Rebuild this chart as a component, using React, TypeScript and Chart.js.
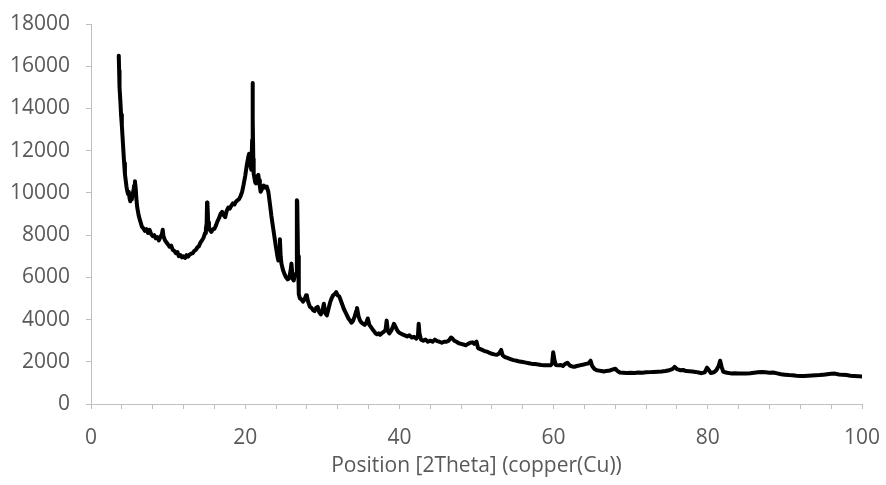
import React, { useEffect, useRef } from "react";
import { Chart, registerables } from "chart.js";

Chart.register(...registerables);

// Diffraction angle (degrees 2θ) and measured intensity (counts)
const twoTheta: number[] = [
  3.6, 3.65, 3.7, 3.8, 3.9, 4.0, 4.1, 4.2, 4.3, 4.4, 4.5, 4.6, 4.7, 4.8, 4.9, 5.0, 5.1, 5.2, 5.3, 5.4,
  5.5, 5.6, 5.7, 5.8, 5.9, 6.0, 6.2, 6.4, 6.6, 6.8, 7.0, 7.2, 7.4, 7.6, 7.8, 8.0, 8.2, 8.4, 8.6, 8.8,
  9.0, 9.2, 9.3, 9.4, 9.6, 9.8, 10.0, 10.2, 10.4, 10.6, 10.8, 11.0, 11.2, 11.4, 11.6, 11.8, 12.0, 12.2, 12.4, 12.6,
  12.8, 13.0, 13.2, 13.4, 13.6, 13.8, 14.0, 14.2, 14.4, 14.6, 14.8, 14.9, 15.0, 15.05, 15.1, 15.2, 15.3, 15.4, 15.6, 15.8,
  16.0, 16.2, 16.4, 16.6, 16.8, 17.0, 17.2, 17.4, 17.6, 17.8, 18.0, 18.2, 18.4, 18.6, 18.8, 19.0, 19.2, 19.4, 19.6, 19.8,
  20.0, 20.2, 20.4, 20.5, 20.6, 20.7, 20.8, 20.9, 20.95, 21.0, 21.05, 21.1, 21.2, 21.3, 21.4, 21.5, 21.6, 21.7, 21.8, 21.9,
  22.0, 22.2, 22.4, 22.6, 22.8, 23.0, 23.2, 23.4, 23.6, 23.8, 24.0, 24.2, 24.3, 24.4, 24.5, 24.6, 24.7, 24.9, 25.1, 25.3,
  25.5, 25.7, 25.9, 26.0, 26.1, 26.2, 26.3, 26.45, 26.6, 26.7, 26.75, 26.85, 26.95, 27.1, 27.3, 27.5, 27.7, 27.9, 28.0, 28.2,
  28.4, 28.6, 28.8, 29.0, 29.2, 29.4, 29.6, 29.8, 30.0, 30.2, 30.4, 30.6, 30.8, 31.0, 31.2, 31.4, 31.6, 31.8, 32.0, 32.2,
  32.4, 32.6, 32.8, 33.0, 33.2, 33.4, 33.6, 33.8, 34.0, 34.2, 34.4, 34.5, 34.7, 34.9, 35.1, 35.3, 35.5, 35.7, 35.9, 36.1,
  36.3, 36.5, 36.7, 36.9, 37.1, 37.3, 37.5, 37.7, 37.9, 38.2, 38.35, 38.5, 38.7, 38.9, 39.1, 39.3, 39.5, 39.7, 39.9, 40.1,
  40.4, 40.7, 41.0, 41.3, 41.6, 41.9, 42.2, 42.4, 42.5, 42.6, 42.8, 43.1, 43.4, 43.7, 44.0, 44.3, 44.6, 44.9, 45.2, 45.5,
  45.8, 46.1, 46.4, 46.7, 46.9, 47.1, 47.4, 47.7, 48.0, 48.3, 48.6, 48.9, 49.2, 49.5, 49.7, 50.0, 50.2, 50.5, 50.8, 51.1,
  51.4, 51.7, 52.0, 52.3, 52.6, 52.9, 53.1, 53.2, 53.4, 53.7, 54.0, 54.4, 54.8, 55.2, 55.6, 56.0, 56.4, 56.8, 57.2, 57.6,
  58.0, 58.4, 58.8, 59.2, 59.6, 59.8, 59.95, 60.1, 60.3, 60.6, 60.9, 61.2, 61.5, 61.8, 62.1, 62.4, 62.7, 63.0, 63.3, 63.6,
  63.9, 64.2, 64.5, 64.8, 65.0, 65.3, 65.6, 65.9, 66.2, 66.5, 66.8, 67.1, 67.4, 67.7, 68.0, 68.3, 68.6, 69.0, 69.5, 70.0,
  70.5, 71.0, 71.5, 72.0, 72.5, 73.0, 73.5, 74.0, 74.5, 75.0, 75.4, 75.7, 76.0, 76.4, 76.8, 77.2, 77.6, 78.0, 78.4, 78.8,
  79.2, 79.6, 79.9, 80.1, 80.4, 80.8, 81.1, 81.4, 81.6, 81.8, 82.0, 82.5, 83.0, 83.5, 84.0, 84.5, 85.0, 85.5, 86.0, 86.5,
  87.0, 87.5, 88.0, 88.5, 89.0, 89.5, 90.0, 90.5, 91.0, 91.5, 92.0, 92.5, 93.0, 93.5, 94.0, 94.5, 95.0, 95.5, 96.0, 96.5,
  97.0, 97.5, 98.0, 98.5, 99.0, 99.5, 100.0,
];

const intensity: number[] = [
  16500, 15800, 15000, 14400, 13700, 13200, 12600, 12000, 11400, 10900, 10600, 10300, 10100, 9950, 10050, 9750, 9600, 9800, 9700, 9950,
  10100, 10350, 10550, 10200, 9650, 9300, 8900, 8650, 8400, 8320, 8200, 8280, 8100, 8250, 8050, 7950, 8000, 7850, 7900, 7750,
  7900, 8050, 8250, 7950, 7750, 7650, 7550, 7450, 7500, 7300, 7250, 7150, 7200, 7000, 7050, 6950, 7000, 6920, 7050, 6980,
  7080, 7120, 7150, 7250, 7300, 7420, 7480, 7650, 7750, 7880, 8100, 8300, 8550, 9550, 9500, 8600, 8350, 8250, 8150, 8280,
  8300, 8450, 8650, 8800, 9000, 9100, 8950, 8850, 9150, 9300, 9250, 9400, 9500, 9450, 9580, 9650, 9700, 9850, 10050, 10400,
  10800, 11300, 11700, 11850, 11700, 11250, 11100, 12500, 15200, 13500, 11600, 10900, 10700, 10500, 10450, 10600, 10800, 10850, 10600, 10300,
  10050, 10200, 10350, 10250, 10300, 10050, 9500, 8900, 8400, 7900, 7400, 6950, 6800, 7300, 7800, 7000, 6650, 6350, 6150, 6000,
  5900, 5950, 6350, 6650, 6200, 5900, 5850, 6150, 6100, 9650, 9600, 7000, 5200, 5000, 4950, 4850, 4950, 5150, 5100, 4800,
  4600, 4550, 4450, 4400, 4550, 4600, 4350, 4250, 4400, 4750, 4300, 4200, 4500, 4800, 5000, 5150, 5200, 5300, 5150, 5100,
  4900, 4700, 4500, 4350, 4200, 4050, 3950, 3850, 3950, 4150, 4400, 4550, 4150, 3950, 3850, 3800, 3750, 3850, 4050, 3750,
  3650, 3550, 3450, 3350, 3300, 3350, 3280, 3350, 3400, 3500, 3950, 3450, 3350, 3450, 3600, 3800, 3650, 3500, 3400, 3350,
  3300, 3250, 3200, 3250, 3150, 3180, 3100, 3200, 3800, 3350, 3050, 3000, 3050, 2950, 3000, 2950, 3050, 2980, 2950, 2900,
  2950, 2950, 3000, 3150, 3100, 3000, 2950, 2880, 2850, 2820, 2780, 2850, 2900, 2920, 2850, 2950, 2650, 2600, 2550, 2500,
  2480, 2420, 2380, 2350, 2330, 2380, 2500, 2560, 2300, 2220, 2180, 2130, 2080, 2050, 2010, 1990, 1960, 1930, 1900, 1890,
  1870, 1850, 1840, 1830, 1830, 1900, 2450, 2100, 1850, 1830, 1850, 1800, 1900, 1950, 1820, 1780, 1760, 1800, 1820, 1850,
  1870, 1900, 1920, 2050, 1800, 1660, 1600, 1580, 1560, 1540, 1560, 1570, 1600, 1640, 1670, 1560, 1490, 1480, 1470, 1480,
  1470, 1490, 1480, 1500, 1510, 1520, 1530, 1540, 1560, 1600, 1650, 1760, 1650, 1600, 1610, 1560, 1550, 1540, 1520, 1490,
  1460, 1500, 1720, 1620, 1470, 1500, 1600, 1800, 2050, 1750, 1530, 1480, 1450, 1460, 1450, 1440, 1450, 1460, 1480, 1500,
  1520, 1500, 1480, 1490, 1450, 1410, 1390, 1370, 1360, 1340, 1330, 1330, 1340, 1350, 1360, 1370, 1390, 1410, 1430, 1440,
  1400, 1380, 1370, 1340, 1330, 1320, 1300,
];

// Axis settings
const xMin = 0;
const xMax = 100;
const xMinorStep = 4;
const xMajorStep = 20;
const yMin = 0;
const yMax = 18000;
const yStep = 2000;
const xTitle = "Position [2Theta] (copper(Cu))";

const AXIS_GREY = "#bfbfbf";
const TEXT_GREY = "#595959";
const FONT_FAMILY = "'Open Sans', sans-serif";

export default function App() {
  const canvasRef = useRef<HTMLCanvasElement | null>(null);

  useEffect(() => {
    const canvas = canvasRef.current;
    if (!canvas) return;

    const points = twoTheta.map((x, i) => ({ x, y: intensity[i] }));

    const chart = new Chart(canvas, {
      type: "line",
      data: {
        datasets: [
          {
            data: points,
            borderColor: "#000000",
            borderWidth: 4,
            borderJoinStyle: "round",
            borderCapStyle: "round",
            pointRadius: 0,
            tension: 0,
            fill: false,
          },
        ],
      },
      options: {
        animation: false,
        responsive: false,
        maintainAspectRatio: false,
        layout: { padding: { left: 0, right: 24, top: 24, bottom: 0 } },
        plugins: {
          legend: { display: false },
          tooltip: { enabled: false },
        },
        scales: {
          x: {
            type: "linear",
            min: xMin,
            max: xMax,
            afterFit: (scale: any) => {
              scale.height = 81;
              scale.paddingLeft = 0;
              scale.paddingRight = 0;
            },
            border: { display: true, color: AXIS_GREY, width: 1 },
            grid: {
              display: true,
              drawOnChartArea: false,
              drawTicks: true,
              tickLength: 5,
              color: AXIS_GREY,
              tickColor: AXIS_GREY,
            },
            ticks: {
              stepSize: xMinorStep,
              autoSkip: false,
              maxRotation: 0,
              padding: 16,
              color: TEXT_GREY,
              font: { family: FONT_FAMILY, size: 21 },
              callback: (value: any) =>
                Number(value) % xMajorStep === 0 ? String(value) : "",
            },
            title: {
              display: true,
              text: xTitle,
              color: TEXT_GREY,
              font: { family: FONT_FAMILY, size: 21 },
              padding: { top: 0, bottom: 6 },
            },
          },
          y: {
            type: "linear",
            min: yMin,
            max: yMax,
            afterFit: (scale: any) => {
              scale.width = 91;
              scale.paddingTop = 0;
              scale.paddingBottom = 0;
            },
            border: { display: true, color: AXIS_GREY, width: 1 },
            grid: {
              display: true,
              drawOnChartArea: false,
              drawTicks: true,
              tickLength: 5,
              color: AXIS_GREY,
              tickColor: AXIS_GREY,
            },
            ticks: {
              stepSize: yStep,
              padding: 16,
              color: TEXT_GREY,
              font: { family: FONT_FAMILY, size: 21 },
              callback: (value: any) => String(value),
            },
          },
        },
      },
    });

    return () => chart.destroy();
  }, []);

  return (
    <div style={{ position: "fixed", left: 0, top: 0, width: 886, height: 485, background: "#ffffff" }}>
      <canvas ref={canvasRef} width={886} height={485} />
    </div>
  );
}
